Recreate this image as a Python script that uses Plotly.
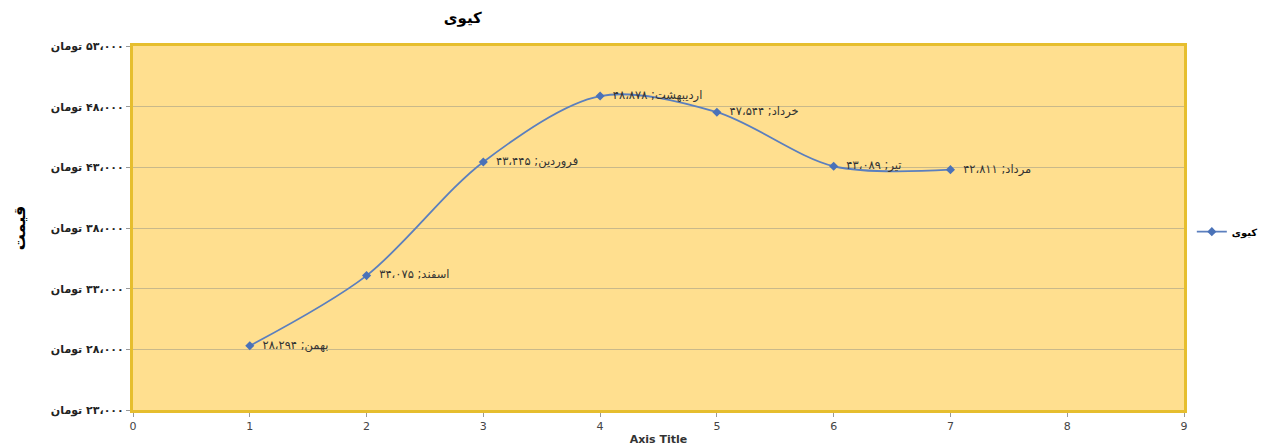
import plotly.graph_objects as go

months = ["بهمن", "اسفند", "فروردین", "اردیبهشت", "خرداد", "تیر", "مرداد"]
x_vals = [1, 2, 3, 4, 5, 6, 7]
prices = [28294, 34075, 43445, 48878, 47544, 43089, 42811]
y_ticks = [23000, 28000, 33000, 38000, 43000, 48000, 53000]
x_ticks = [0, 1, 2, 3, 4, 5, 6, 7, 8, 9]
series_name = "کیوی"
chart_title = "کیوی"
y_title = "قیمت"
x_title = "Axis Title"

FA = str.maketrans("0123456789", "۰۱۲۳۴۵۶۷۸۹")


def fa_num(v):
    return f"{v:,}".replace(",", "،").translate(FA)


# Arabic letter mark keeps the whole label right-to-left: "تومان" shows on the left
y_tick_text = ["\u061c" + fa_num(v) + " تومان" for v in y_ticks]
point_labels = [f"{m}; {fa_num(v)}" for m, v in zip(months, prices)]

fig = go.Figure()
fig.add_trace(go.Scatter(
    x=x_vals, y=prices, name="<b>" + series_name + "</b>",
    mode="lines+markers+text",
    line=dict(color="#5B7FBE", width=1.8, shape="spline", smoothing=0.9),
    marker=dict(symbol="diamond", size=7, color="#4A72B8"),
    text=["  " + t for t in point_labels], textposition="middle right",
    textfont=dict(family="DejaVu Sans", size=11.5, color="#333333"),
))

fig.update_layout(
    width=1261, height=447,
    paper_bgcolor="white",
    plot_bgcolor="#FFDF8F",
    margin=dict(l=133, r=77, t=46, b=37, autoexpand=False),
    title=dict(text="<b>" + chart_title + "</b>", x=0.367, xanchor="center",
               y=0.96, yanchor="middle",
               font=dict(family="DejaVu Sans", size=15, color="black")),
    legend=dict(x=1.075, y=0.49, xanchor="right", yanchor="middle",
                font=dict(family="DejaVu Sans", size=10, color="black"),
                bgcolor="rgba(0,0,0,0)", itemwidth=30),
    showlegend=True,
)

fig.update_xaxes(
    range=[0, 9], tickvals=x_ticks, ticktext=[str(t) for t in x_ticks],
    showgrid=False, zeroline=False, automargin=False,
    showline=True, linecolor="#E6BE2E", linewidth=3, mirror=True,
    ticks="outside", ticklen=4, tickcolor="#999999",
    tickfont=dict(family="Liberation Sans Narrow, DejaVu Sans", size=11, color="#444444"),
    title=dict(text="<b>" + x_title + "</b>", standoff=4,
               font=dict(family="Liberation Sans Narrow, DejaVu Sans", size=11, color="#333333")),
)
fig.update_yaxes(
    range=[23000, 53000], tickvals=y_ticks, ticktext=["<b>" + t + "</b>" for t in y_tick_text],
    showgrid=True, gridcolor="#C9B98A", gridwidth=1, zeroline=False, automargin=False,
    showline=True, linecolor="#E6BE2E", linewidth=3, mirror=True,
    ticks="outside", ticklen=4, tickcolor="#999999",
    tickfont=dict(family="DejaVu Sans", size=11, color="#222222"),
    title=dict(text="<b>" + y_title + "</b>", standoff=22,
               font=dict(family="DejaVu Sans", size=16, color="black")),
)

fig.write_html("out.html", config={"displayModeBar": False},
               post_script="document.body.style.margin='0';")
